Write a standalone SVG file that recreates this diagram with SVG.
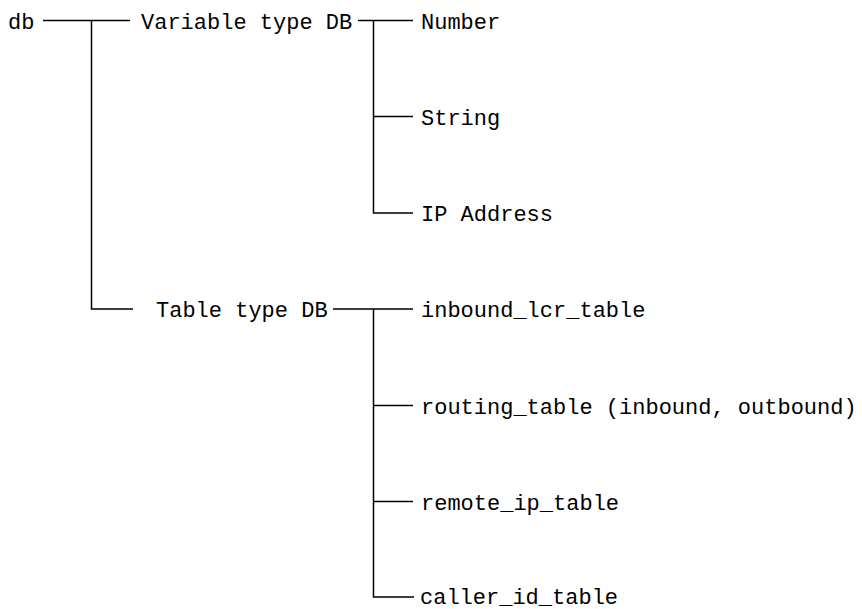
<svg xmlns="http://www.w3.org/2000/svg" width="862" height="609" viewBox="0 0 862 609">
<style>
.t{font-family:"Liberation Mono","DejaVu Sans Mono",monospace;font-size:22px;fill:#000}
.c{stroke:#000;stroke-width:1.5;fill:none}
</style>
<rect width="862" height="609" fill="#fff"/>
<g id="connectors" class="c">
<path d="M43 20.5H130M91.5 20.5V309H133"/>
<path d="M358 20.5H413M373.5 20.5V213H413M373.5 116.5H413"/>
<path d="M333 309H413M373.5 309V597H414M373.5 405.5H413M373.5 501.5H413"/>
</g>
<g id="db"><text class="t" x="8" y="28.5">db</text></g>
<g id="variable"><text class="t" x="141" y="28.5">Variable type DB</text></g>
<g id="number"><text class="t" x="421" y="28.5">Number</text></g>
<g id="string"><text class="t" x="421" y="124.5">String</text></g>
<g id="ip"><text class="t" x="421" y="221">IP Address</text></g>
<g id="table"><text class="t" x="156" y="317">Table type DB</text></g>
<g id="inbound"><text class="t" x="421" y="317">inbound_lcr_table</text></g>
<g id="routing"><text class="t" x="421" y="413.5">routing_table (inbound, outbound)</text></g>
<g id="remote"><text class="t" x="421" y="509.5">remote_ip_table</text></g>
<g id="caller"><text class="t" x="420" y="603.5">caller_id_table</text></g>
</svg>
